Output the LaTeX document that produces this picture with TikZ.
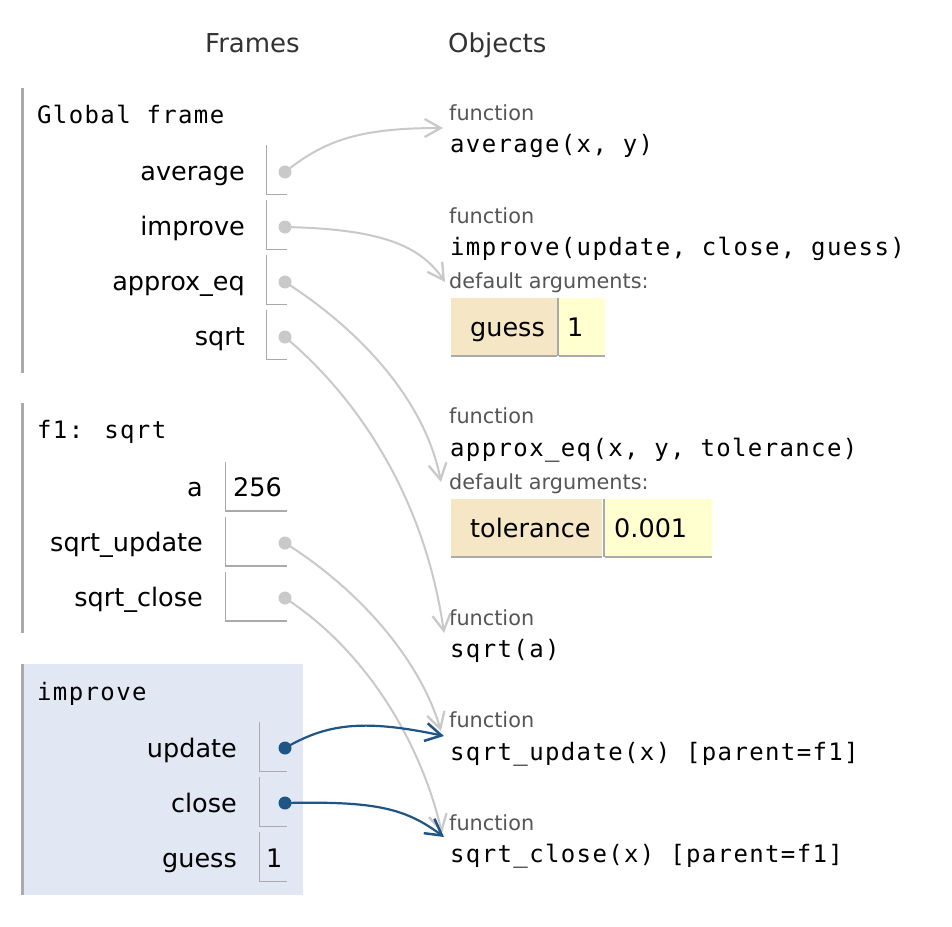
\documentclass[tikz,border=0pt]{standalone}
\usepackage{fontspec}
\setmainfont{DejaVu Sans}
\newfontfamily\codefont[LetterSpace=5.7]{DejaVu Sans Mono}
\usetikzlibrary{arrows.meta}
\definecolor{ptrgray}{HTML}{C9C9C9}
\definecolor{ptrblue}{HTML}{1F5584}
\definecolor{slotgray}{HTML}{AAAAAA}
\definecolor{framebg}{HTML}{E2E8F3}
\definecolor{hdrgray}{HTML}{333333}
\definecolor{fngray}{HTML}{555555}
\definecolor{keybg}{HTML}{F5E6C6}
\definecolor{valbg}{HTML}{FFFFCF}
\tikzset{
  lbl/.style={anchor=base east, inner sep=0pt, font=\fontsize{25.5}{30}\selectfont},
  valtxt/.style={anchor=base west, inner sep=0pt, font=\fontsize{25.5}{30}\selectfont},
  hdr/.style={anchor=base west, inner sep=0pt, text=hdrgray, font=\fontsize{26}{30}\selectfont},
  codetxt/.style={anchor=base west, inner sep=0pt, font=\codefont\fontsize{24}{28}\selectfont},
  fntxt/.style={anchor=base west, inner sep=0pt, text=fngray, font=\fontsize{20.8}{25}\selectfont},
  slot/.style={draw=slotgray, line width=1.5pt},
  fbar/.style={draw=slotgray, line width=2.5pt},
  ptrdot/.style={circle, fill=ptrgray, inner sep=0pt, minimum size=13pt},
  bluedot/.style={circle, fill=ptrblue, inner sep=0pt, minimum size=13pt},
  gline/.style={draw=ptrgray, line width=2pt, -{Straight Barb[length=16pt,width=18pt,line width=2.3pt]}},
  bline/.style={draw=ptrblue, line width=2.2pt, -{Straight Barb[length=16pt,width=18pt,line width=2.5pt]}},
  keycell/.style={fill=keybg},
  valcell/.style={fill=valbg},
}
\begin{document}
\begin{tikzpicture}[x=1pt,y=-1pt]
\useasboundingbox (0,0) rectangle (952,926);
\fill[white] (0,0) rectangle (952,926);

% headers
\node[hdr] (hFrames) at (205,52) {Frames};
\node[hdr] (hObjects) at (448,52) {Objects};

% ---------- Global frame ----------
\draw[fbar] (22.5,88) -- (22.5,373);
\node[codetxt] (gTitle) at (37,123) {Global frame};
\node[lbl] (lAvg) at (245,180) {average};
\node[lbl] (lImp) at (245,235) {improve};
\node[lbl] (lApx) at (245,290) {approx\_eq};
\node[lbl] (lSqrt) at (245,345) {sqrt};
\draw[slot] (266.5,145) -- (266.5,194.5) -- (287,194.5);
\draw[slot] (266.5,200) -- (266.5,249.5) -- (287,249.5);
\draw[slot] (266.5,255) -- (266.5,304.5) -- (287,304.5);
\draw[slot] (266.5,310) -- (266.5,359.5) -- (287,359.5);

% ---------- f1: sqrt ----------
\draw[fbar] (22.5,403) -- (22.5,633);
\node[codetxt] (fTitle) at (37,438) {f1: sqrt};
\node[lbl] (lA) at (203,496) {a};
\node[lbl] (lSU) at (203,551) {sqrt\_update};
\node[lbl] (lSC) at (203,606) {sqrt\_close};
\draw[slot] (225.5,462) -- (225.5,511) -- (287,511);
\draw[slot] (225.5,517) -- (225.5,566) -- (287,566);
\draw[slot] (225.5,572) -- (225.5,621) -- (287,621);
\node[valtxt] (vA) at (233,496) {256};

% ---------- improve frame ----------
\fill[framebg] (22,664) rectangle (303,895);
\draw[fbar] (22.5,664) -- (22.5,895);
\node[codetxt] (iTitle) at (37,700) {improve};
\node[lbl] (lUpd) at (237,757) {update};
\node[lbl] (lClo) at (237,812) {close};
\node[lbl] (lGue) at (237,867) {guess};
\draw[slot] (259.5,722) -- (259.5,771.5) -- (287,771.5);
\draw[slot] (259.5,777) -- (259.5,826.5) -- (287,826.5);
\draw[slot] (259.5,832) -- (259.5,881.5) -- (287,881.5);
\node[valtxt] (vGue) at (266,867) {1};

% ---------- Objects ----------
% average
\node[fntxt] (oAvgF) at (449,120) {function};
\node[codetxt] (oAvgC) at (450,152) {average(x, y)};
% improve
\node[fntxt] (oImpF) at (449,223) {function};
\node[codetxt] (oImpC) at (450,255) {improve(update, close, guess)};
\node[fntxt] (oImpD) at (449,288) {default arguments:};
\fill[keycell] (451,298) rectangle (557,355);
\fill[valcell] (559,298) rectangle (605,355);
\draw[slotgray, line width=2pt] (558,298) -- (558,356);
\draw[slotgray, line width=2pt] (451,356) -- (557,356);
\draw[slotgray, line width=2pt] (559,356) -- (605,356);
\node[valtxt] (oImpK) at (470,336) {guess};
\node[valtxt] (oImpV) at (567,336) {1};
% approx_eq
\node[fntxt] (oApxF) at (449,423) {function};
\node[codetxt] (oApxC) at (450,456) {approx\_eq(x, y, tolerance)};
\node[fntxt] (oApxD) at (449,489) {default arguments:};
\fill[keycell] (451,499) rectangle (602,556);
\fill[valcell] (605,499) rectangle (712,556);
\draw[slotgray, line width=2pt] (603.5,499) -- (603.5,557);
\draw[slotgray, line width=2pt] (451,557) -- (602,557);
\draw[slotgray, line width=2pt] (605,557) -- (712,557);
\node[valtxt] (oApxK) at (470,537) {tolerance};
\node[valtxt] (oApxV) at (614,537) {0.001};
% sqrt
\node[fntxt] (oSqrtF) at (449,625) {function};
\node[codetxt] (oSqrtC) at (450,657) {sqrt(a)};
% sqrt_update
\node[fntxt] (oSUF) at (449,727) {function};
\node[codetxt] (oSUC) at (450,760) {sqrt\_update(x) [parent=f1]};
% sqrt_close
\node[fntxt] (oSCF) at (449,830) {function};
\node[codetxt] (oSCC) at (450,862) {sqrt\_close(x) [parent=f1]};

% arrow targets
\coordinate (tAvg) at (443,128);
\coordinate (tImp) at (445,282);
\coordinate (tApx) at (441,482);
\coordinate (tSqrt) at (444,633);
\coordinate (tSU) at (441,731);
\coordinate (tSC) at (442,833);
\coordinate (tUpd) at (444,736);
\coordinate (tClo) at (444,837);

% pointer dots
\node[ptrdot] (pAvg) at (285,172) {};
\node[ptrdot] (pImp) at (285,227) {};
\node[ptrdot] (pApx) at (285,282) {};
\node[ptrdot] (pSqrt) at (285,337) {};
\node[ptrdot] (pSU) at (285,543) {};
\node[ptrdot] (pSC) at (285,598) {};
\node[bluedot] (pUpd) at (285,748) {};
\node[bluedot] (pClo) at (285,803) {};

% connectors
\draw[gline] (pAvg.center) .. controls (325,140) and (360,128) .. (tAvg);
\draw[gline] (pImp.center) .. controls (380,229) and (420,245) .. (tImp);
\draw[gline] (pApx.center) .. controls (360,330) and (425,400) .. (tApx);
\draw[gline] (pSqrt.center) .. controls (360,400) and (425,500) .. (tSqrt);
\draw[gline] (pSU.center) .. controls (360,590) and (420,660) .. (tSU);
\draw[gline] (pSC.center) .. controls (365,650) and (420,740) .. (tSC);
\draw[bline] (pUpd.center) .. controls (325,725) and (360,718) .. (tUpd);
\draw[bline] (pClo.center) .. controls (375,801) and (405,808) .. (tClo);
\end{tikzpicture}
\end{document}
